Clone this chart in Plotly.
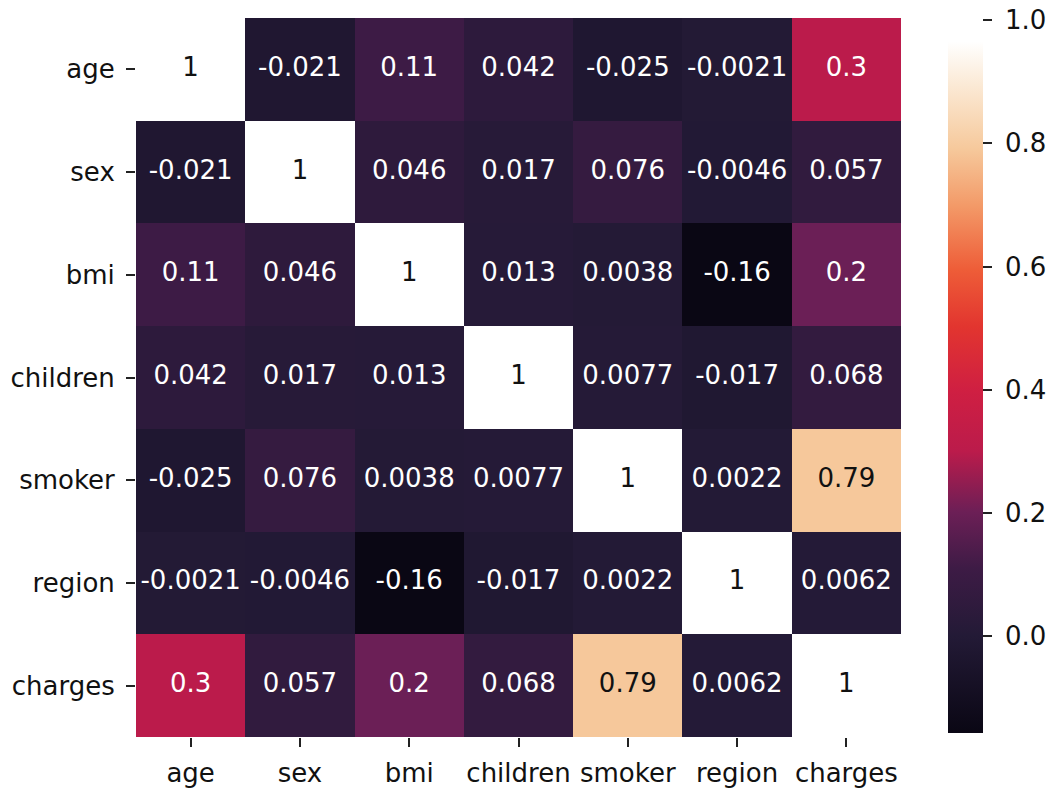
import plotly.graph_objects as go

labels = ["age", "sex", "bmi", "children", "smoker", "region", "charges"]

corr = [
    [1, -0.021, 0.11, 0.042, -0.025, -0.0021, 0.3],
    [-0.021, 1, 0.046, 0.017, 0.076, -0.0046, 0.057],
    [0.11, 0.046, 1, 0.013, 0.0038, -0.16, 0.2],
    [0.042, 0.017, 0.013, 1, 0.0077, -0.017, 0.068],
    [-0.025, 0.076, 0.0038, 0.0077, 1, 0.0022, 0.79],
    [-0.0021, -0.0046, -0.16, -0.017, 0.0022, 1, 0.0062],
    [0.3, 0.057, 0.2, 0.068, 0.79, 0.0062, 1],
]

cbar_ticks = [0.0, 0.2, 0.4, 0.6, 0.8, 1.0]

zmin = -0.157
zmax = 1.0

colorscale = [
    [0.0, "#0a0714"],
    [0.136, "#231a36"],
    [0.23, "#3d1b45"],
    [0.31, "#6c1f56"],
    [0.395, "#bb1b4b"],
    [0.48, "#cf1f42"],
    [0.57, "#e2352f"],
    [0.65, "#ee5d38"],
    [0.74, "#f39a68"],
    [0.82, "#f6c99c"],
    [0.91, "#fbead6"],
    [0.97, "#ffffff"],
    [1.0, "#ffffff"],
]

FONT = "DejaVu Sans"
FS = 26
W, H = 1051, 791
ml, mr, mt, mb = 136, 150, 18, 54
plot_h = H - mt - mb

fig = go.Figure()
fig.add_trace(go.Heatmap(
    z=corr, x=labels, y=labels,
    zmin=zmin, zmax=zmax,
    colorscale=colorscale,
    hoverinfo="skip",
    colorbar=dict(
        x=(948 - ml) / (W - ml - mr), xanchor="left",
        y=1 - 2 / plot_h, yanchor="top",
        lenmode="pixels", len=713,
        thickness=35, thicknessmode="pixels",
        xpad=0, ypad=0,
        outlinewidth=0,
        ticks="outside", ticklen=9, tickwidth=1.5, tickcolor="#222",
        tickvals=cbar_ticks,
        ticktext=[f" {t:.1f}" for t in cbar_ticks],
        tickfont=dict(family=FONT, size=FS, color="#111"),
    ),
))

xs, ys, texts, colors = [], [], [], []
for i, row_lab in enumerate(labels):
    for j, col_lab in enumerate(labels):
        v = corr[i][j]
        xs.append(col_lab)
        ys.append(row_lab)
        texts.append(f"{v:.2g}")
        colors.append("#111111" if v > 0.6 else "#ffffff")

fig.add_trace(go.Scatter(
    x=xs, y=ys, text=texts, mode="text",
    textposition="middle center",
    textfont=dict(family=FONT, size=FS, color=colors),
    hoverinfo="skip", showlegend=False,
))

fig.update_layout(
    width=W, height=H,
    margin=dict(l=ml, r=mr, t=mt, b=mb, autoexpand=False),
    paper_bgcolor="white", plot_bgcolor="white",
    showlegend=False,
    font=dict(family=FONT, size=FS, color="#111"),
)
fig.update_xaxes(
    type="category", categoryorder="array", categoryarray=labels,
    range=[-0.5, 6.5], showgrid=False, zeroline=False, showline=False,
    ticks="outside", ticklen=9, tickwidth=1.5, tickcolor="#222",
    ticklabelstandoff=4, automargin=False,
    tickfont=dict(family=FONT, size=FS, color="#111"),
)
fig.update_yaxes(
    type="category", categoryorder="array", categoryarray=labels,
    range=[6.5, -0.5], showgrid=False, zeroline=False, showline=False,
    ticks="outside", ticklen=9, tickwidth=1.5, tickcolor="#222",
    ticklabelstandoff=6, automargin=False,
    tickfont=dict(family=FONT, size=FS, color="#111"),
)

fig.write_html("out.html")
